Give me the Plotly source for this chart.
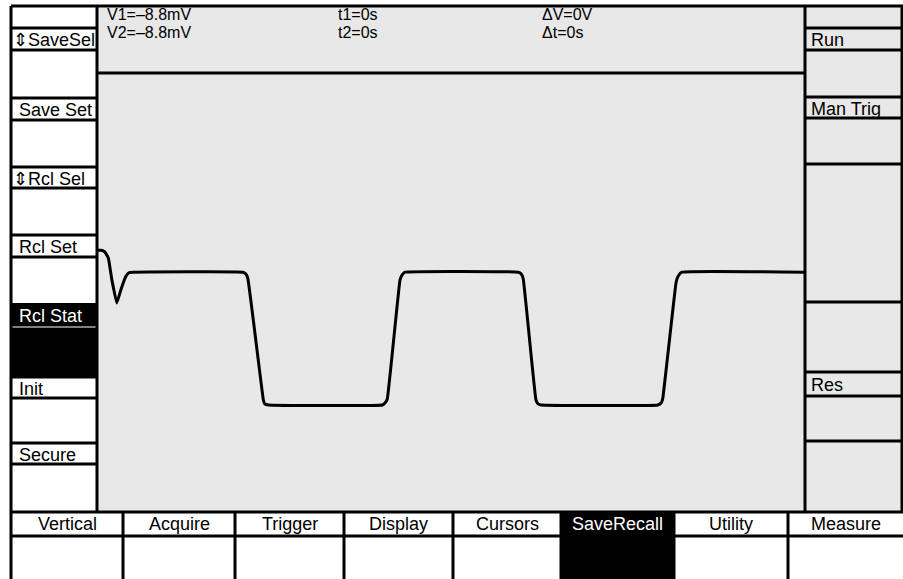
import plotly.graph_objects as go

# ---------------- data ----------------
# waveform: time in divisions (0..10), voltage in divisions (-4..4)
time_div = [0.00, 0.06, 0.11, 0.16, 0.21, 0.28, 0.34, 0.41, 0.45, 0.51,
            2.06, 2.10, 2.13, 2.35, 2.37, 2.42,
            4.03, 4.07, 4.10, 4.28, 4.31, 4.35,
            5.95, 5.99, 6.02, 6.20, 6.23, 6.27,
            7.92, 7.97, 7.99, 8.18, 8.21, 8.26, 10.00]
volt_div = [0.77, 0.77, 0.74, 0.63, 0.23, -0.19, 0.06, 0.30, 0.36, 0.37,
            0.37, 0.34, 0.26, -1.96, -2.03, -2.05,
            -2.05, -2.01, -1.94, 0.23, 0.32, 0.37,
            0.37, 0.34, 0.25, -1.96, -2.03, -2.05,
            -2.05, -2.01, -1.94, 0.19, 0.30, 0.37, 0.37]

readout_left = ["V1=\u20138.8mV", "V2=\u20138.8mV"]
readout_mid = ["t1=0s", "t2=0s"]
readout_right = ["\u0394V=0V", "\u0394t=0s"]

left_labels = ["\u21d5SaveSel", "Save Set", "\u21d5Rcl Sel", "Rcl Set", "Rcl Stat", "Init", "Secure"]
left_active = "Rcl Stat"
right_labels = ["Run", "Man Trig", "Res"]
bottom_tabs = ["Vertical", "Acquire", "Trigger", "Display", "Cursors", "SaveRecall", "Utility", "Measure"]
bottom_active = "SaveRecall"

# ---------------- layout geometry (pixels) ----------------
W, H = 903, 579
FONT = "Liberation Sans"
FS = 18
STIP = "#e8e8e8"
LW = 3

def X(px):
    return px / W

def Y(py):
    return 1 - py / H

shapes = []
annotations = []

def rect(x0, y0, x1, y1, fill=None, lw=0, color="black", layer="below"):
    shapes.append(dict(type="rect", xref="paper", yref="paper",
                       x0=X(x0), x1=X(x1), y0=Y(y1), y1=Y(y0),
                       fillcolor=fill if fill else "rgba(0,0,0,0)",
                       line=dict(width=lw, color=color), layer=layer))

def hline(x0, x1, y, lw=LW, color="black"):
    shapes.append(dict(type="line", xref="paper", yref="paper",
                       x0=X(x0), x1=X(x1), y0=Y(y), y1=Y(y),
                       line=dict(width=lw, color=color), layer="above"))

def vline(x, y0, y1, lw=LW, color="black"):
    shapes.append(dict(type="line", xref="paper", yref="paper",
                       x0=X(x), x1=X(x), y0=Y(y0), y1=Y(y1),
                       line=dict(width=lw, color=color), layer="above"))

def text(x, y, s, color="black", anchor="left", size=FS):
    annotations.append(dict(xref="paper", yref="paper", x=X(x), y=Y(y),
                            text=s, showarrow=False, xanchor=anchor, yanchor="middle",
                            borderpad=0,
                            font=dict(family=FONT, size=size, color=color)))

# backgrounds
rect(97, 6, 805, 512, fill=STIP)          # readout + graticule
rect(805, 6, 903, 512, fill=STIP)         # right panel
rect(11, 6, 97, 512, fill="white")        # left panel
rect(11, 512, 903, 579, fill="white")     # bottom panel

# left panel
left_rows = [(28, 50), (98, 120), (167, 188), (235, 257), (303, 327), (377, 398), (443, 464)]
for (t, b), lab in zip(left_rows, left_labels):
    if lab == left_active:
        rect(11, t, 97, 377, fill="black")
        hline(11, 97, b, lw=1.2, color="white")
        text(18, (t + b) / 2 + 1, lab, color="white")
    else:
        hline(11, 97, t)
        hline(11, 97, b)
        text(12 if lab.startswith("\u21d5") else 18, (t + b) / 2 + 1, lab)

# right panel
right_lines = [28, 50, 97, 118, 164, 302, 372, 396, 441]
for yy in right_lines:
    hline(805, 903, yy)
right_rows = [(28, 50), (97, 118), (372, 396)]
for (t, b), lab in zip(right_rows, right_labels):
    text(810, (t + b) / 2 + 1, lab)

# readouts
for i in range(2):
    yy = 14.5 + 18.5 * i
    text(106, yy, readout_left[i], size=16)
    text(337, yy, readout_mid[i], size=16)
    text(541, yy, readout_right[i], size=16)
hline(97, 805, 73)

# bottom tabs
tab_edges = [11, 123, 235, 344, 453, 561, 674, 788, 903]
for i, lab in enumerate(bottom_tabs):
    x0, x1 = tab_edges[i], tab_edges[i + 1]
    if lab == bottom_active:
        rect(x0, 512, x1, 579, fill="black")
        hline(x0, x1, 536, lw=1.2, color="white")
        text((x0 + x1) / 2, 524, lab, color="white", anchor="center")
    else:
        text((x0 + x1) / 2, 524, lab, anchor="center")
for xe in tab_edges[1:-1]:
    vline(xe, 512, 579)
hline(11, 903, 512)
hline(11, 903, 536)

# frame
hline(11, 903, 6)
vline(11, 6, 579)
vline(97, 6, 512)
vline(805, 6, 512)
vline(902, 6, 512)

fig = go.Figure()
fig.add_trace(go.Scatter(x=time_div, y=volt_div, mode="lines",
                         line=dict(color="black", width=3, shape="spline", smoothing=0.3),
                         hoverinfo="skip", showlegend=False))

fig.update_layout(
    width=W, height=H, autosize=False,
    margin=dict(l=0, r=0, t=0, b=0),
    paper_bgcolor="white", plot_bgcolor="rgba(0,0,0,0)",
    xaxis=dict(domain=[X(97), X(805)], range=[0, 10], visible=False, fixedrange=True),
    yaxis=dict(domain=[Y(512), Y(73)], range=[-4, 4], visible=False, fixedrange=True),
    shapes=shapes, annotations=annotations, showlegend=False,
)

fig.write_html("out.html", config={"displayModeBar": False},
               post_script="document.body.style.margin='0px';document.body.style.overflow='hidden';")
